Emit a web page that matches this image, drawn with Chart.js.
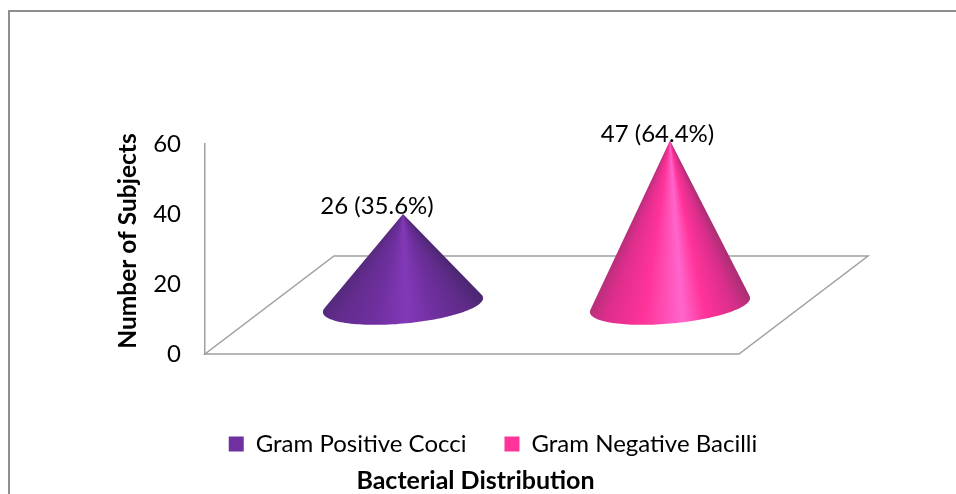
<!DOCTYPE html>
<html>
<head>
<meta charset="utf-8">
<script src="https://cdn.jsdelivr.net/npm/chart.js@4/dist/chart.umd.js"></script>
<style>
  html, body { margin: 0; background: #fff; }
  #wrap { width: 956px; height: 494px; }
</style>
</head>
<body>
<div id="wrap"><canvas id="chart"></canvas></div>
<script>
const categories = ['Bacterial Distribution'];
const seriesNames = ['Gram Positive Cocci', 'Gram Negative Bacilli'];
const seriesValues = [26, 47];
const seriesPercents = ['35.6%', '64.4%'];
const seriesColours = ['#7030a0', '#ff3399'];
const yTicks = [0, 20, 40, 60];
const yTitle = 'Number of Subjects';

const FONT = 'Lato, Carlito, sans-serif';
const LINE = '#a0a0a0';
// floor depth of the fake 3d plot, in pixels
const DEPTH_X = 129;
const DEPTH_Y = 98;
// label nudges from the bar centre (they were dragged by hand in the original)
const LABEL_DX = [38.5, 52];
const LABEL_Y = [206, 134];
// right edge -> left edge of the cone, as seen from the apex
const CONE_SHADES = [
  [[0, '#4a2670'], [0.12, '#5e2b88'], [0.32, '#7030a0'], [0.5, '#8339b8'], [0.7, '#7030a0'], [0.9, '#632c8e'], [1, '#552a7c']],
  [[0, '#a82f72'], [0.12, '#d92e8b'], [0.3, '#ff3399'], [0.44, '#ff66cc'], [0.52, '#ff55bb'], [0.68, '#ff3399'], [0.9, '#dd2e8c'], [1, '#b82f7a']],
];

const conePlugin = {
  id: 'cone',
  beforeDraw(chart) {
    const { ctx, chartArea: a } = chart;
    ctx.save();
    // outer chart frame, cut off by the picture on the right and bottom
    ctx.strokeStyle = '#8e8e8e';
    ctx.lineWidth = 2;
    ctx.beginPath();
    ctx.moveTo(9, 494);
    ctx.lineTo(9, 11);
    ctx.lineTo(956, 11);
    ctx.stroke();
    // floor
    ctx.strokeStyle = LINE;
    ctx.lineWidth = 1.5;
    ctx.beginPath();
    ctx.moveTo(a.left, a.bottom);
    ctx.lineTo(a.right, a.bottom);
    ctx.lineTo(a.right + DEPTH_X, a.bottom - DEPTH_Y);
    ctx.lineTo(a.left + DEPTH_X, a.bottom - DEPTH_Y);
    ctx.closePath();
    ctx.stroke();
    ctx.restore();
  },
  afterLayout(chart) {
    // legend and title are not centred on the plot in the original
    chart.legend.left += 67;
    chart.legend.right += 67;
    chart.legend.top += 2;
    chart.legend.bottom += 2;
    chart.titleBlock.left += 49.5;
    chart.titleBlock.right += 49.5;
    chart.titleBlock.top += 1.5;
    chart.titleBlock.bottom += 1.5;
  },
  beforeDatasetDraw(chart, args) {
    const { ctx } = chart;
    const bar = args.meta.data[0];
    const cx = bar.x + DEPTH_X / 2;
    const cy = chart.chartArea.bottom - DEPTH_Y / 2;
    const apexY = bar.y - DEPTH_Y / 2;
    const rx = bar.width * 0.3;
    const shear = -rx * 0.087;
    const ry = rx * 0.232;
    const H = cy - apexY;

    const point = (t) => [cx + rx * Math.cos(t), cy + shear * Math.cos(t) + ry * Math.sin(t)];
    // tangent points of the silhouette on the base ellipse
    const t0 = -Math.asin(ry / H);
    const t1 = Math.PI - t0;
    const right = point(t0);
    const left = point(t1);

    const aR = Math.atan2(right[1] - apexY, right[0] - cx);
    const aL = Math.atan2(left[1] - apexY, left[0] - cx);
    const span = (aL - aR) / (2 * Math.PI);
    const grad = ctx.createConicGradient(aR, cx, apexY);
    CONE_SHADES[args.index].forEach(([pos, col]) => grad.addColorStop(pos * span, col));
    grad.addColorStop(Math.min(span + 0.001, 1), CONE_SHADES[args.index].at(-1)[1]);

    ctx.save();
    ctx.fillStyle = grad;
    ctx.beginPath();
    ctx.moveTo(cx, apexY);
    for (let i = 0; i <= 80; i++) {
      const p = point(t0 + (t1 - t0) * i / 80);
      ctx.lineTo(p[0], p[1]);
    }
    ctx.closePath();
    ctx.fill();
    ctx.restore();
    return false;
  },
  afterDatasetsDraw(chart) {
    const { ctx, chartArea: a } = chart;
    ctx.save();
    ctx.font = '24px ' + FONT;
    ctx.fillStyle = '#000';
    ctx.textAlign = 'center';
    ctx.textBaseline = 'middle';
    chart.data.datasets.forEach((ds, i) => {
      const bar = chart.getDatasetMeta(i).data[0];
      ctx.fillText(ds.data[0] + ' (' + seriesPercents[i] + ')', bar.x + LABEL_DX[i], LABEL_Y[i]);
    });
    // y title sits above the middle of the axis, the scale title can't do that
    ctx.font = 'bold 24.5px ' + FONT;
    ctx.translate(128, (a.top + a.bottom) / 2 - 8);
    ctx.rotate(-Math.PI / 2);
    ctx.fillText(yTitle, 0, 0);
    ctx.restore();
  },
};

new Chart(document.getElementById('chart'), {
  type: 'bar',
  data: {
    labels: categories,
    datasets: seriesNames.map((name, i) => ({
      label: name,
      data: [seriesValues[i]],
      backgroundColor: seriesColours[i],
      categoryPercentage: 1,
      barPercentage: 1,
    })),
  },
  options: {
    responsive: true,
    maintainAspectRatio: false,
    animation: false,
    layout: { padding: { top: 144, right: 217, left: 113, bottom: 0 } },
    scales: {
      x: {
        ticks: { display: false },
        grid: { display: false },
        border: { display: false },
        afterFit: (scale) => { scale.height = 38; },
      },
      y: {
        min: 0,
        max: 60,
        afterBuildTicks: (scale) => { scale.ticks = yTicks.map((value) => ({ value })); },
        afterFit: (scale) => { scale.width = 92; },
        grid: { display: false },
        border: { display: true, color: LINE, width: 1.5 },
        ticks: { color: '#000', font: { family: FONT, size: 24 }, padding: 16 },
      },
    },
    plugins: {
      tooltip: { enabled: false },
      legend: {
        position: 'bottom',
        labels: { color: '#000', font: { family: FONT, size: 24 }, boxWidth: 15, boxHeight: 15, padding: 38 },
      },
      title: {
        display: true,
        position: 'bottom',
        text: categories[0],
        color: '#000',
        font: { family: FONT, size: 25, weight: 'bold' },
        padding: { top: 0, bottom: 0 },
      },
    },
  },
  plugins: [conePlugin],
});
</script>
</body>
</html>
